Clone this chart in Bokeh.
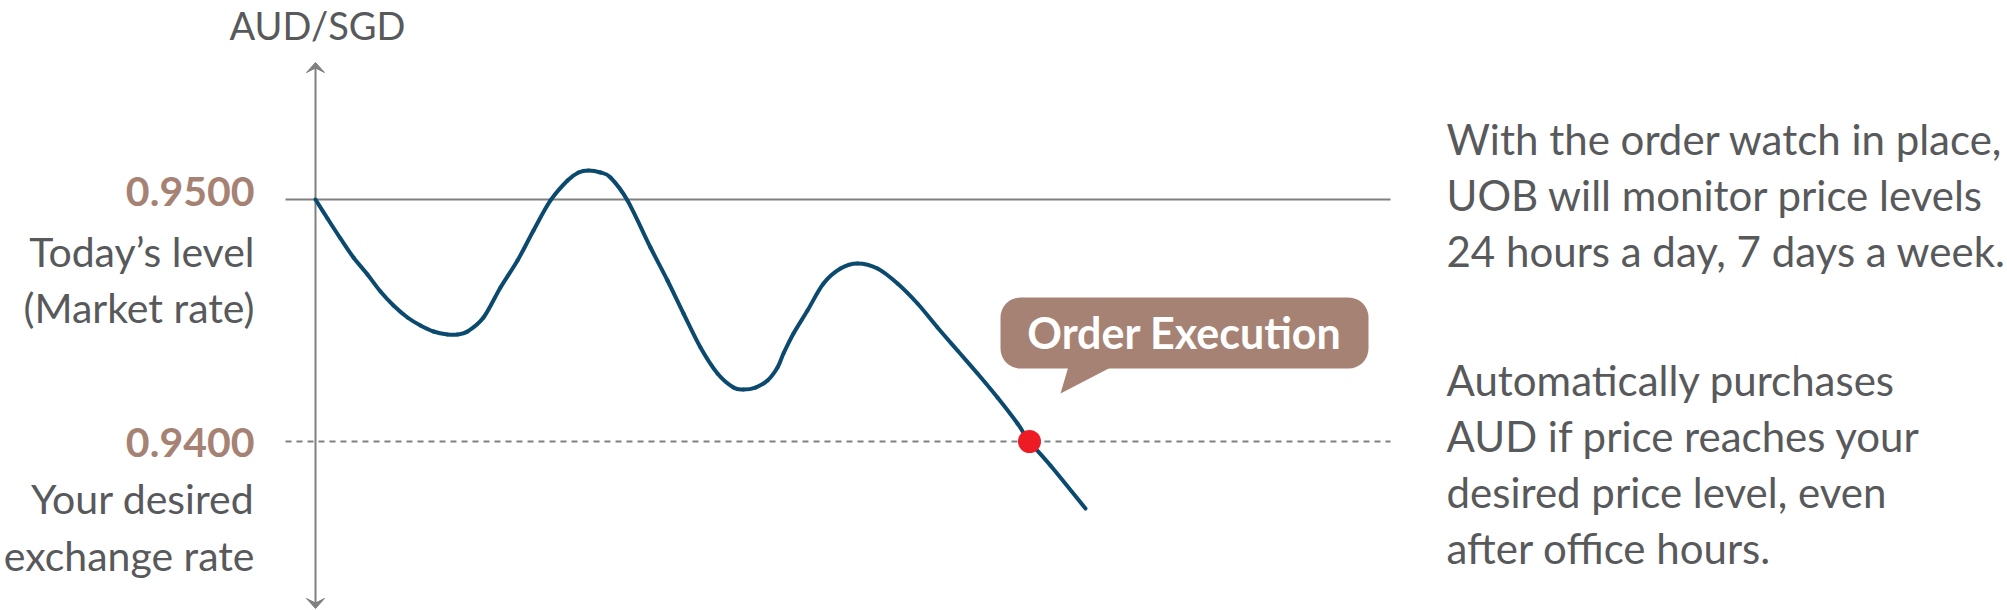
from bokeh.plotting import figure
from bokeh.models import Range1d, BoxAnnotation
from bokeh.core.properties import value
from bokeh.embed import file_html
from bokeh.resources import INLINE

# ---------------- data ----------------
hours = [0, 1.2, 2.5, 3.8, 5.2, 6.5, 7.8, 9.2, 10.5, 11.8, 13.2, 14.2, 15.2, 16.8,
         18.5, 20.2, 21.8, 23.5, 25.2, 26.3, 27.3, 28.5, 29.5, 31.2, 33.5, 35.2,
         36.8, 38.5, 40.2, 41.8, 42.8, 44.0, 45.2, 46.2, 46.8, 47.8, 49.2, 50.8,
         52.5, 54.2, 56.2, 58.2, 60.2, 62.2, 64.2, 66.2, 68.2, 70.2, 71.4, 73.5, 77.0]
rate = [0.95000, 0.949215, 0.948388, 0.947603, 0.946901, 0.946198, 0.945620,
        0.945124, 0.944793, 0.944545, 0.944421, 0.944421, 0.944545, 0.945124,
        0.946364, 0.947479, 0.948719, 0.949959, 0.950785, 0.951116, 0.951198,
        0.951116, 0.950909, 0.949959, 0.948017, 0.946653, 0.945289, 0.943884,
        0.942810, 0.942231, 0.942149, 0.942231, 0.942520, 0.943058, 0.943636,
        0.944463, 0.945413, 0.946529, 0.947149, 0.947355, 0.947149, 0.946529,
        0.945702, 0.944711, 0.943760, 0.942810, 0.941818, 0.940744, 0.940000,
        0.939008, 0.937231]

market_rate = 0.9500
desired_rate = 0.9400
execution_hour = 71.4

level_values = [market_rate, desired_rate]
level_labels = ["0.9500", "0.9400"]
level_captions = [["Today\u2019s level", "(Market rate)"],
                  ["Your desired", "exchange rate"]]
axis_title = "AUD/SGD"
bubble_text = "Order Execution"
note_1 = ["With the order watch in place,",
          "UOB will monitor price levels",
          "24 hours a day, 7 days a week."]
note_2 = ["Automatically purchases",
          "AUD if price reaches your",
          "desired price level, even",
          "after office hours."]

# ---------------- layout helpers (page pixels -> data) ----------------
PX_PER_HOUR = 10.0
PX_PER_RATE = 24200.0
X0_PX = 315.0
Y0_PX = 199.0


def hx(px):
    return (px - X0_PX) / PX_PER_HOUR


def ry(py):
    return market_rate - (py - Y0_PX) / PX_PER_RATE


def base(py, size):
    # place a text so that its alphabetic baseline lands on page row py
    return ry(py - 0.36 * size)


TEXT = "#58595b"
BROWN = "#a68274"
GREY = "#808080"
NAVY = "#0b4a6e"
RED = "#ed1c24"
FONT = value("Lato")

W, H = 2007, 610
p = figure(width=W, height=H, output_backend="svg", toolbar_location=None,
           x_range=Range1d(hx(0), hx(W)), y_range=Range1d(ry(H), ry(0)),
           x_axis_location=None, y_axis_location=None, min_border=0,
           outline_line_color=None, background_fill_color="white",
           border_fill_color="white")
p.grid.visible = False

# reference levels
line_x = [hx(285), hx(1390)]
p.line(line_x, [market_rate, market_rate], line_color=GREY, line_width=2)
p.line(line_x, [desired_rate, desired_rate], line_color=GREY, line_width=2,
       line_dash="6 5")

# vertical axis with arrow heads
top_py, bot_py = 62, 608
p.line([0, 0], [ry(top_py + 4), ry(bot_py - 4)], line_color=GREY, line_width=2)
hw, hl, notch = 0.9, 10.0, 5.5
p.patch([0, hw, 0, -hw], [ry(top_py), ry(top_py + hl), ry(top_py + notch), ry(top_py + hl)],
        fill_color=GREY, line_color=GREY, line_width=1)
p.patch([0, hw, 0, -hw], [ry(bot_py), ry(bot_py - hl), ry(bot_py - notch), ry(bot_py - hl)],
        fill_color=GREY, line_color=GREY, line_width=1)

# the rate path, drawn as a smooth curve through the read points
n = len(hours)
x0, y0, x1, y1, cx0, cy0, cx1, cy1 = ([] for _ in range(8))
for i in range(n - 1):
    a = max(i - 1, 0)
    d = min(i + 2, n - 1)
    x0.append(hours[i]); y0.append(rate[i])
    x1.append(hours[i + 1]); y1.append(rate[i + 1])
    cx0.append(hours[i] + (hours[i + 1] - hours[a]) / 6.0)
    cy0.append(rate[i] + (rate[i + 1] - rate[a]) / 6.0)
    cx1.append(hours[i + 1] - (hours[d] - hours[i]) / 6.0)
    cy1.append(rate[i + 1] - (rate[d] - rate[i]) / 6.0)
p.bezier(x0=x0, y0=y0, x1=x1, y1=y1, cx0=cx0, cy0=cy0, cx1=cx1, cy1=cy1,
         line_color=NAVY, line_width=4, line_cap="round")

# execution point
p.scatter([execution_hour], [desired_rate], size=23, fill_color=RED, line_color=None)

# speech bubble
bubble = BoxAnnotation(left=hx(1000), right=hx(1368), top=ry(297), bottom=ry(368),
                       fill_color=BROWN, fill_alpha=1.0, line_color=None,
                       border_radius=20, level="underlay")
p.add_layout(bubble)
p.patch([hx(1068), hx(1112), hx(1060)], [ry(366), ry(366), ry(393)],
        fill_color=BROWN, line_color=None)
p.text(x=[hx(1184)], y=[base(347, 43)], text=[bubble_text], text_font=FONT,
       text_font_style="bold", text_font_size="43px", text_color="white",
       text_align="center", text_baseline="alphabetic")

# axis title
p.text(x=[0.2], y=[base(38, 38)], text=[axis_title], text_font=FONT,
       text_font_size="38px", text_color=TEXT, text_align="center",
       text_baseline="alphabetic")

# level labels
label_x = hx(254)
p.text(x=[label_x] * 2, y=[base(206, 41), base(457, 41)], text=level_labels,
       text_font=FONT, text_font_style="bold", text_font_size="41px",
       text_color=BROWN, text_align="right", text_baseline="alphabetic")
cap_base = [[266, 322], [513, 570]]
for caps, bases in zip(level_captions, cap_base):
    p.text(x=[label_x] * len(caps), y=[base(b, 41) for b in bases], text=caps,
           text_font=FONT, text_font_size="41px", text_color=TEXT,
           text_align="right", text_baseline="alphabetic")

# side notes
note_x = hx(1446)
p.text(x=[note_x] * 3, y=[base(b, 42) for b in (154, 210, 266)], text=note_1,
       text_font=FONT, text_font_size="42px", text_color=TEXT, text_align="left",
       text_baseline="alphabetic")
p.text(x=[note_x] * 4, y=[base(b, 42) for b in (395, 451, 507, 563)], text=note_2,
       text_font=FONT, text_font_size="42px", text_color=TEXT, text_align="left",
       text_baseline="alphabetic")

open("out.html", "w").write(file_html(p, INLINE))
